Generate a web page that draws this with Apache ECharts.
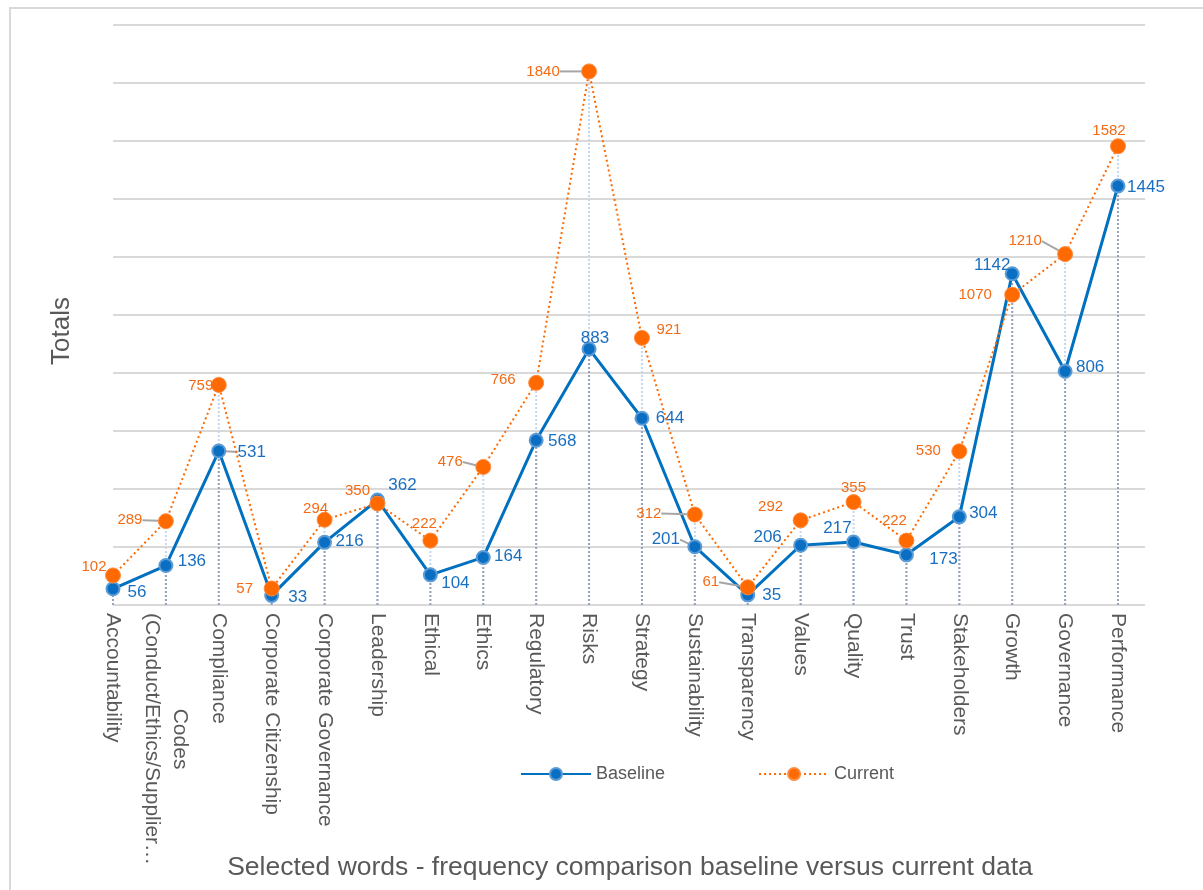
<!DOCTYPE html>
<html>
<head>
<meta charset="utf-8">
<script src="https://cdn.jsdelivr.net/npm/echarts@6/dist/echarts.min.js"></script>
<style>html,body{margin:0;padding:0;background:#fff}#c{width:1203px;height:890px}</style>
</head>
<body>
<div id="c"></div>
<script>
const categories = ['Accountability', 'Codes\n(Conduct/Ethics/Supplier…', 'Compliance', 'Corporate Citizenship', 'Corporate Governance', 'Leadership', 'Ethical', 'Ethics', 'Regulatory', 'Risks', 'Strategy', 'Sustainability', 'Transparency', 'Values', 'Quality', 'Trust', 'Stakeholders', 'Growth', 'Governance', 'Performance'];
const baseline = [56, 136, 531, 33, 216, 362, 104, 164, 568, 883, 644, 201, 35, 206, 217, 173, 304, 1142, 806, 1445];
const current = [102, 289, 759, 57, 294, 350, 222, 476, 766, 1840, 921, 312, 61, 292, 355, 222, 530, 1070, 1210, 1582];
const yTicks = {min: 0, max: 2000, interval: 200};

// label placement (style only)
const baseLabelOffset = [[24,4],[26,-4],[33,1],[26,2],[25,-1],[25,-15],[25,8],[25,-1],[26,1],[6,-11],[28,0],[-29,-7],[24,0],[-33,-8],[-16,-14],[37,4],[24,-4],[-20,-9],[25,-4],[28,1]];
const baseLeader = [0,0,1,0,0,0,0,0,0,0,0,1,0,0,0,0,0,0,0,0];
const currLabelOffset = [[-19,-9],[-36,-1],[-18,1],[-27,0],[-9,-11],[-20,-13],[-6,-17],[-33,-5],[-33,-3],[-46,0],[27,-8],[-46,-1],[-37,-5],[-30,-13],[0,-14],[-12,-20],[-31,0],[-37,0],[-40,-13],[-9,-15]];
const currLeader = [0,1,0,0,0,0,0,1,0,1,0,1,1,0,0,0,0,0,1,0];

const FONT = "'Liberation Sans', Arial, sans-serif";
const TXT = '#595959';
const BLUE = '#0a6fc2';
const ORANGE = '#ff6a00';

function items(vals, leader) {
  return vals.map((v, i) => leader[i] ? {value: v, labelLine: {show: true}} : v);
}
function dropSeries(vals, color, z) {
  return {
    type: 'custom', xAxisIndex: 0, yAxisIndex: 0, z: z, silent: true,
    data: vals.map((v, i) => [i, v]),
    encode: {x: 0, y: 1},
    renderItem: function (params, api) {
      const p0 = api.coord([api.value(0), 0]);
      const p1 = api.coord([api.value(0), api.value(1)]);
      return {type: 'line', shape: {x1: p0[0], y1: p0[1], x2: p1[0], y2: p1[1]},
        style: {stroke: color, lineWidth: 2, lineDash: [2, 2]}};
    }
  };
}

const chart = echarts.init(document.getElementById('c'), null, {renderer: 'canvas'});
chart.setOption({
  animation: false,
  backgroundColor: '#fff',
  textStyle: {fontFamily: FONT},
  graphic: [
    {type: 'rect', shape: {x: 10, y: 8, width: 1400, height: 1000}, style: {fill: 'none', stroke: '#d9d9d9', lineWidth: 2}, silent: true},
    {type: 'text', x: 62, y: 331, rotation: Math.PI / 2, style: {text: 'Totals', font: '26px ' + FONT, fill: TXT, align: 'center', verticalAlign: 'middle'}},
    {type: 'text', x: 630, y: 868, style: {text: 'Selected words - frequency comparison baseline versus current data', font: '26.5px ' + FONT, fill: TXT, align: 'center', verticalAlign: 'middle'}}
  ],
  legend: {
    data: ['Baseline', 'Current'], left: 515, top: 760, itemWidth: 70, itemHeight: 15, itemGap: 93,
    textStyle: {fontSize: 18, color: TXT, fontFamily: FONT}
  },
  grid: [
    {left: 113, right: 85, top: 25, bottom: 285},
    {left: 113, right: 58, top: 25, bottom: 285}
  ],
  xAxis: [
    {type: 'category', gridIndex: 0, data: categories, boundaryGap: false,
      axisLine: {show: false}, axisTick: {show: false},
      axisLabel: {interval: 0, rotate: -90, margin: 8, fontSize: 21, color: TXT, fontFamily: FONT, lineHeight: 28,
        formatter: function (v) { const p = v.split('\n'); return p.length > 1 ? p.map(s => '{c|' + s + '}').join('\n') : v; },
        rich: {c: {align: 'center', fontSize: 21, color: TXT, fontFamily: FONT, lineHeight: 28}}}},
    {type: 'value', gridIndex: 1, show: false, min: 0, max: 1}
  ],
  yAxis: [
    {type: 'value', gridIndex: 0, min: yTicks.min, max: yTicks.max, interval: yTicks.interval, show: false},
    {type: 'value', gridIndex: 1, min: yTicks.min, max: yTicks.max, interval: yTicks.interval,
      axisLine: {show: false}, axisTick: {show: false}, axisLabel: {show: false},
      splitLine: {show: true, lineStyle: {color: '#d9d9d9', width: 2}}}
  ],
  series: [
    {
      name: 'Baseline', type: 'line', xAxisIndex: 0, yAxisIndex: 0, z: 4,
      data: items(baseline, baseLeader),
      symbol: 'circle', symbolSize: 13,
      lineStyle: {color: '#0070c0', width: 3},
      itemStyle: {color: BLUE, borderColor: '#5b9bd5', borderWidth: 2},
      label: {show: true, position: 'inside', fontSize: 17, color: '#1a6fc0', fontFamily: FONT},
      labelLine: {show: false, lineStyle: {color: '#a6a6a6', width: 2}},
      labelLayout: function (p) { const o = baseLabelOffset[p.dataIndex]; return {dx: o[0], dy: o[1]}; }
    },
    {
      name: 'Current', type: 'line', xAxisIndex: 0, yAxisIndex: 0, z: 5,
      data: items(current, currLeader),
      symbol: 'circle', symbolSize: 15,
      lineStyle: {color: ORANGE, width: 2, type: [2, 3]},
      itemStyle: {color: ORANGE, borderColor: '#ff8c40', borderWidth: 1},
      label: {show: true, position: 'inside', fontSize: 15, color: '#f36b14', fontFamily: FONT},
      labelLine: {show: false, lineStyle: {color: '#a6a6a6', width: 2}},
      labelLayout: function (p) { const o = currLabelOffset[p.dataIndex]; return {dx: o[0], dy: o[1]}; }
    },
    dropSeries(current, '#c5d6f0', 2),
    dropSeries(baseline, '#97a3bd', 3)
  ]
});
</script>
</body>
</html>
